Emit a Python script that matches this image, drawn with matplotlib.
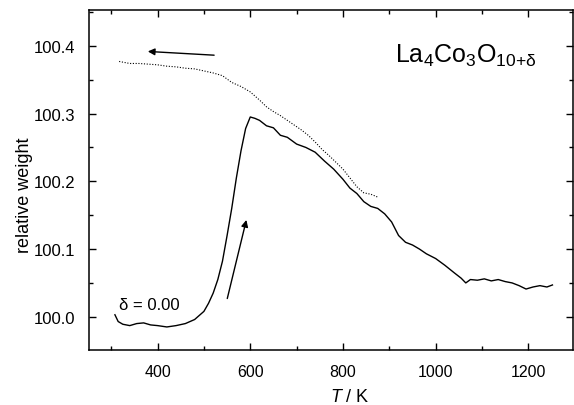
import numpy as np
import matplotlib
matplotlib.use("Agg")
import matplotlib.pyplot as plt
from matplotlib.ticker import MultipleLocator

plt.rcParams['font.family'] = ['Liberation Sans', 'DejaVu Sans']
plt.rcParams['mathtext.fontset'] = 'custom'
plt.rcParams['mathtext.rm'] = 'Liberation Sans'
plt.rcParams['mathtext.it'] = 'Liberation Sans:italic'

# heating run (solid)
heat_T = [308, 315, 325, 340, 355, 370, 385, 400, 420, 440, 460, 480, 500, 510,
          520, 530, 540, 550, 560, 570, 580, 590, 600, 610, 620, 635, 650, 665,
          680, 700, 720, 740, 760, 780, 800, 815, 830, 845, 860, 875, 890, 905,
          920, 935, 950, 965, 980, 1000, 1020, 1040, 1055, 1065, 1075, 1090,
          1105, 1120, 1135, 1150, 1165, 1180, 1195, 1210, 1225, 1240, 1252]
heat_w = [100.003, 99.993, 99.989, 99.987, 99.990, 99.991, 99.988, 99.987,
          99.985, 99.987, 99.990, 99.996, 100.008, 100.020, 100.035, 100.055,
          100.082, 100.120, 100.160, 100.205, 100.245, 100.278, 100.295,
          100.293, 100.290, 100.282, 100.279, 100.268, 100.265, 100.255,
          100.250, 100.243, 100.230, 100.218, 100.203, 100.190, 100.182,
          100.170, 100.163, 100.160, 100.152, 100.140, 100.120, 100.110,
          100.106, 100.100, 100.093, 100.086, 100.076, 100.065, 100.057,
          100.050, 100.055, 100.054, 100.056, 100.053, 100.055, 100.052,
          100.050, 100.046, 100.041, 100.044, 100.046, 100.044, 100.047]

# cooling run (dotted)
cool_T = [874, 860, 845, 830, 815, 800, 785, 770, 755, 740, 725, 710, 695, 680,
          665, 650, 635, 620, 600, 580, 560, 540, 520, 500, 480, 460, 440, 420,
          400, 380, 360, 340, 317]
cool_w = [100.177, 100.181, 100.183, 100.192, 100.205, 100.218, 100.228,
          100.238, 100.247, 100.258, 100.268, 100.276, 100.283, 100.290,
          100.297, 100.303, 100.310, 100.320, 100.332, 100.340, 100.346,
          100.356, 100.360, 100.363, 100.366, 100.367, 100.369, 100.370,
          100.372, 100.373, 100.374, 100.374, 100.377]

fig = plt.figure(figsize=(5.74, 4.06), dpi=100)
ax = fig.add_axes([0.155, 0.1355, 0.843, 0.8375])

ax.plot(heat_T, heat_w, color='black', lw=1.0)
ax.plot(cool_T, cool_w, color='black', lw=0.8, linestyle=(0, (1, 1.5)))

ax.annotate('', xy=(373, 100.392), xytext=(528, 100.386),
            arrowprops=dict(arrowstyle='-|>', color='black', lw=1.0, mutation_scale=10))
ax.annotate('', xy=(593, 100.147), xytext=(549, 100.023),
            arrowprops=dict(arrowstyle='-|>', color='black', lw=1.0, mutation_scale=10))

ax.text(317, 100.011, 'δ = 0.00', fontsize=12)
ax.text(912, 100.376, r'$\mathrm{La_4Co_3O_{10{+}δ}}$', fontsize=18)

ax.set_xlim(252, 1296)
ax.set_ylim(99.951, 100.453)
ax.xaxis.set_major_locator(MultipleLocator(200))
ax.xaxis.set_minor_locator(MultipleLocator(100))
ax.yaxis.set_major_locator(MultipleLocator(0.1))
ax.yaxis.set_minor_locator(MultipleLocator(0.05))
ax.yaxis.set_major_formatter(matplotlib.ticker.FormatStrFormatter('%.1f'))
ax.tick_params(which='both', direction='in', top=True, right=True, width=1)
ax.tick_params(which='major', length=5)
ax.tick_params(which='minor', length=3)
ax.tick_params(axis='x', labelsize=11.5, pad=10)
ax.tick_params(axis='y', labelsize=12, pad=10)
for s in ax.spines.values():
    s.set_linewidth(1.1)

ax.set_xlabel(r'$\mathit{T}$ / K', fontsize=13)
ax.set_ylabel('relative weight', fontsize=13)
ax.xaxis.set_label_coords(0.539, -0.138)
ax.yaxis.set_label_coords(-0.134, 0.459)
for lab in (ax.xaxis.label, ax.yaxis.label):
    lab.set_verticalalignment('center')

fig.savefig('out.png', dpi=100)
